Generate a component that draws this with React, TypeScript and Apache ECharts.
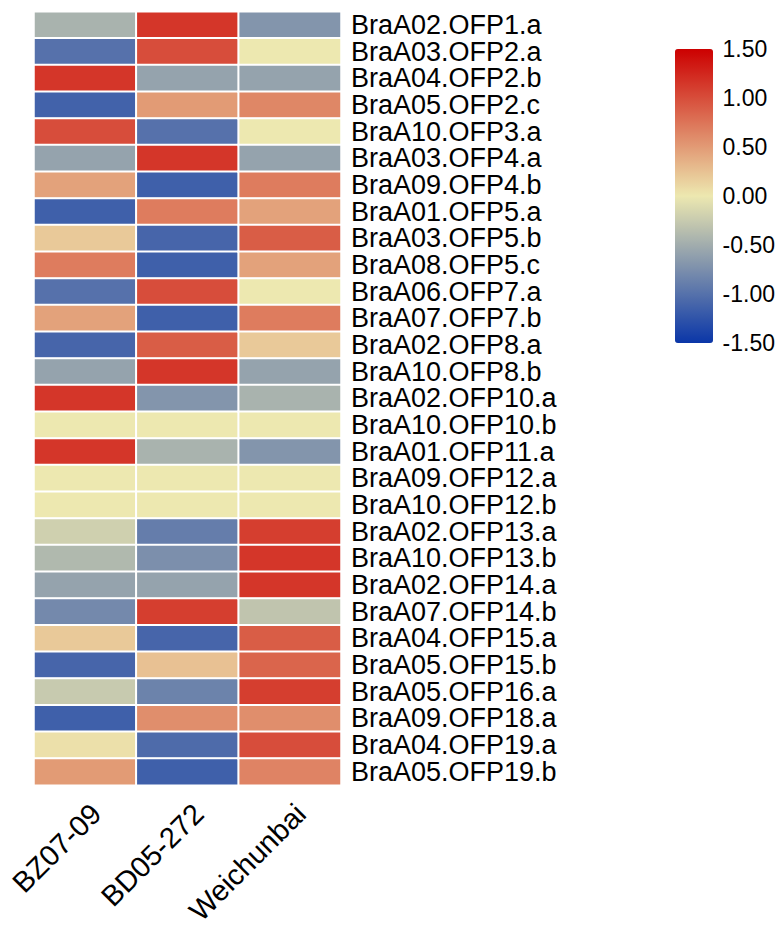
import React, { useEffect, useRef } from "react";
import * as echarts from "echarts";

const rowNames = [
  "BraA02.OFP1.a", "BraA03.OFP2.a", "BraA04.OFP2.b", "BraA05.OFP2.c", "BraA10.OFP3.a",
  "BraA03.OFP4.a", "BraA09.OFP4.b", "BraA01.OFP5.a", "BraA03.OFP5.b", "BraA08.OFP5.c",
  "BraA06.OFP7.a", "BraA07.OFP7.b", "BraA02.OFP8.a", "BraA10.OFP8.b", "BraA02.OFP10.a",
  "BraA10.OFP10.b", "BraA01.OFP11.a", "BraA09.OFP12.a", "BraA10.OFP12.b", "BraA02.OFP13.a",
  "BraA10.OFP13.b", "BraA02.OFP14.a", "BraA07.OFP14.b", "BraA04.OFP15.a", "BraA05.OFP15.b",
  "BraA05.OFP16.a", "BraA09.OFP18.a", "BraA04.OFP19.a", "BraA05.OFP19.b",
];

const sampleNames = ["BZ07-09", "BD05-272", "Weichunbai"];

const bz0709 = [
  -0.45, -1.0, 1.15, -1.13, 1.0,
  -0.58, 0.45, -1.15, 0.2, 0.7,
  -1.0, 0.45, -1.1, -0.58, 1.15,
  0.0, 1.15, 0.0, 0.0, -0.2,
  -0.4, -0.58, -0.8, 0.2, -1.1,
  -0.25, -1.15, 0.05, 0.5,
];
const bd05272 = [
  1.15, 1.0, -0.58, 0.5, -1.0,
  1.15, -1.15, 0.7, -1.1, -1.15,
  1.0, -1.15, 0.9, 1.15, -0.7,
  0.0, -0.45, 0.0, 0.0, -0.9,
  -0.75, -0.58, 1.1, -1.1, 0.25,
  -0.85, 0.58, -1.05, -1.15,
];
const weichunbai = [
  -0.7, 0.0, -0.58, 0.63, 0.0,
  -0.58, 0.7, 0.45, 0.9, 0.45,
  0.0, 0.7, 0.2, -0.58, -0.45,
  0.0, -0.7, 0.0, 0.0, 1.1,
  1.15, 1.15, -0.3, 0.9, 0.85,
  1.1, 0.58, 1.0, 0.65,
];

const scaleMin = -1.5;
const scaleMax = 1.5;
const scaleStep = 0.5;
const paletteColors = ["#0A36A8", "#EDE8B0", "#CC0000"];

export default function App() {
  const ref = useRef<HTMLDivElement>(null);
  useEffect(() => {
    if (!ref.current) return;
    const chart = echarts.init(ref.current, null, { renderer: "svg" });
    const columns = [bz0709, bd05272, weichunbai];
    const data: [number, number, number][] = [];
    columns.forEach((col, ci) => {
      col.forEach((v, ri) => data.push([ci, ri, v]));
    });
    const font = "Liberation Sans, Arial, sans-serif";
    chart.setOption({
      animation: false,
      grid: [
        { left: 34, top: 11.7, width: 307, height: 796 },
        { left: 675, top: 49, width: 38, height: 294 },
      ],
      xAxis: [
        {
          type: "category",
          gridIndex: 0,
          data: sampleNames,
          axisLine: { show: false },
          axisTick: { show: false },
          splitLine: { show: false },
          axisLabel: {
            interval: 0,
            rotate: 45,
            fontSize: 29,
            fontFamily: font,
            color: "#000",
            margin: 0,
            align: "right",
            verticalAlign: "top",
            padding: [10, 9, 0, 0],
          },
        },
        { type: "value", gridIndex: 1, show: false, min: 0, max: 1 },
      ],
      yAxis: [
        {
          type: "category",
          gridIndex: 0,
          data: rowNames,
          inverse: true,
          position: "right",
          axisLine: { show: false },
          axisTick: { show: false },
          splitLine: { show: false },
          axisLabel: {
            interval: 0,
            fontSize: 27,
            lineHeight: 26,
            fontFamily: font,
            color: "#000",
            margin: 10,
          },
        },
        {
          type: "value",
          gridIndex: 1,
          min: scaleMin,
          max: scaleMax,
          interval: scaleStep,
          position: "right",
          axisLine: { show: false },
          axisTick: { show: false },
          splitLine: { show: false },
          axisLabel: {
            fontSize: 23,
            fontFamily: font,
            color: "#000",
            margin: 10,
            formatter: (v: number) => v.toFixed(2),
          },
        },
      ],
      visualMap: {
        type: "continuous",
        min: scaleMin,
        max: scaleMax,
        calculable: false,
        orient: "vertical",
        left: 675,
        top: 49,
        itemWidth: 38,
        itemHeight: 294,
        padding: 0,
        seriesIndex: 0,
        inRange: { color: paletteColors },
      },
      series: [
        {
          type: "heatmap",
          xAxisIndex: 0,
          yAxisIndex: 0,
          data,
          itemStyle: { borderColor: "#ffffff", borderWidth: 2 },
          emphasis: { disabled: true },
        },
      ],
    });
    return () => chart.dispose();
  }, []);
  return (
    <div
      ref={ref}
      style={{ position: "absolute", left: 0, top: 0, width: 778, height: 928 }}
    />
  );
}
